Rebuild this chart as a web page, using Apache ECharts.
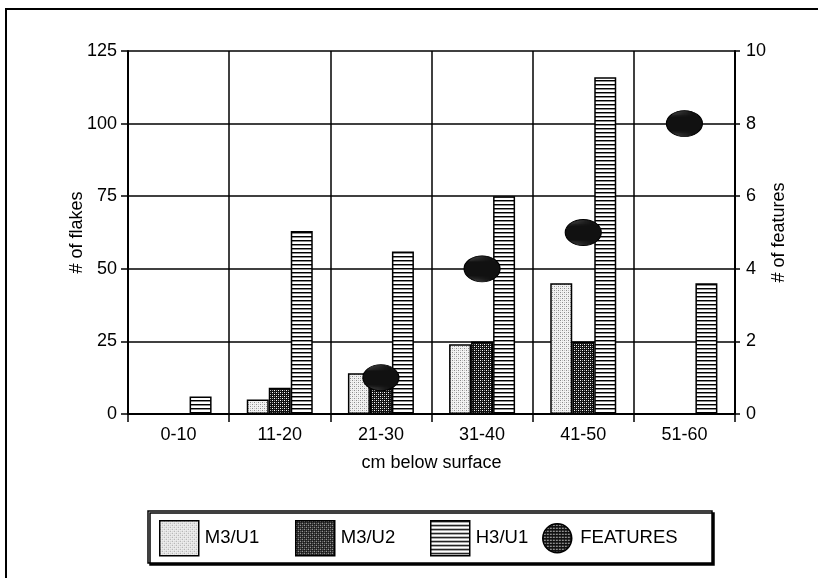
<!DOCTYPE html>
<html>
<head>
<meta charset="utf-8">
<script src="https://cdn.jsdelivr.net/npm/echarts@6/dist/echarts.min.js"></script>
<style>
  html, body { margin: 0; padding: 0; background: #fff; }
  #chart { width: 818px; height: 578px; }
</style>
</head>
<body>
<div id="chart"></div>
<script>
// Depth intervals (cm below surface)
const depthBins = ['0-10', '11-20', '21-30', '31-40', '41-50', '51-60'];
// Flake counts per unit
const m3u1 = [0, 5, 14, 24, 45, 0];
const m3u2 = [0, 9, 9, 25, 25, 0];
const h3u1 = [6, 63, 56, 75, 116, 45];
// Number of features per interval ('-' = none plotted)
const featureCounts = ['-', '-', 1, 4, 5, 8];
// Axis ranges
const flakeAxis = [0, 125, 25];
const featureAxis = [0, 10, 2];

const FONT = '"Liberation Sans", Arial, sans-serif';

function tile(w, h, draw) {
  const c = document.createElement('canvas');
  c.width = w; c.height = h;
  const g = c.getContext('2d');
  draw(g);
  return { image: c, repeat: 'repeat' };
}

// Light stipple
const stipple = tile(4, 4, g => {
  g.fillStyle = '#f2f2f2'; g.fillRect(0, 0, 4, 4);
  g.fillStyle = '#8a8a8a';
  g.fillRect(0, 0, 1, 1); g.fillRect(2, 2, 1, 1);
  g.fillStyle = '#c4c4c4';
  g.fillRect(2, 0, 1, 1); g.fillRect(0, 2, 1, 1);
});
// Dark dotted hatch
const hatch = tile(4, 4, g => {
  g.fillStyle = '#111'; g.fillRect(0, 0, 4, 4);
  g.fillStyle = '#fff';
  g.fillRect(0, 0, 1, 1); g.fillRect(2, 2, 1, 1);
  g.fillStyle = '#9a9a9a';
  g.fillRect(2, 0, 1, 1); g.fillRect(0, 2, 1, 1);
});
// Horizontal stripes
const stripes = tile(4, 4, g => {
  g.fillStyle = '#fff'; g.fillRect(0, 0, 4, 4);
  g.fillStyle = '#000'; g.fillRect(0, 0, 4, 1);
  g.fillStyle = '#8c8c8c'; g.fillRect(0, 1, 4, 1);
});
// Feature marker fill
const featureFill = tile(3, 3, g => {
  g.fillStyle = '#111'; g.fillRect(0, 0, 3, 3);
  g.fillStyle = '#f4f4f4'; g.fillRect(1, 1, 1, 1);
  g.fillStyle = '#777'; g.fillRect(2, 1, 1, 1);
});

const barStyle = fill => ({ color: fill, borderColor: '#000', borderWidth: 1.5 });
const txt = { color: '#000', fontFamily: FONT, fontSize: 18 };

function legendItem(name, icon, left, top, w, h) {
  return {
    data: [{ name: name, icon: icon }], left: left, top: top, itemWidth: w, itemHeight: h,
    itemGap: 0, padding: 0, selectedMode: false, symbolKeepAspect: false,
    textStyle: Object.assign({}, txt, { fontSize: 18.5, padding: [0, 0, 0, 1] }),
    itemStyle: { borderColor: '#000', borderWidth: 1.5 }
  };
}

const chart = echarts.init(document.getElementById('chart'), null, { renderer: 'canvas' });
chart.setOption({
  animation: false,
  backgroundColor: '#fff',
  grid: { left: 128, right: 83, top: 51, bottom: 164 },
  graphic: [
    { type: 'rect', shape: { x: 6, y: 9, width: 900, height: 700 },
      style: { fill: 'none', stroke: '#000', lineWidth: 2 }, z: -10 },
    { type: 'rect', shape: { x: 148, y: 511, width: 564, height: 52 },
      style: { fill: '#fff', stroke: '#000', lineWidth: 1.5,
               shadowColor: '#000', shadowOffsetX: 2, shadowOffsetY: 2, shadowBlur: 0 }, z: -5 }
  ],
  legend: [
    legendItem('M3/U1', 'rect', 159, 520, 39, 35),
    legendItem('M3/U2', 'rect', 295, 520, 39, 35),
    legendItem('H3/U1', 'rect', 430, 520, 39, 35),
    legendItem('FEATURES', 'circle', 542, 523, 34, 29)
  ],
  xAxis: {
    type: 'category',
    data: depthBins,
    boundaryGap: true,
    name: 'cm below surface',
    nameLocation: 'middle',
    nameGap: 40,
    nameMoveOverlap: false,
    nameTextStyle: txt,
    axisLine: { lineStyle: { color: '#000', width: 2 } },
    axisTick: { show: true, length: 8, lineStyle: { color: '#000', width: 1.5 } },
    axisLabel: Object.assign({ margin: 12 }, txt),
    splitLine: { show: true, lineStyle: { color: '#000', width: 1.5 } }
  },
  yAxis: [
    {
      type: 'value', min: flakeAxis[0], max: flakeAxis[1], interval: flakeAxis[2],
      name: '# of flakes', nameLocation: 'middle', nameGap: 42, nameRotate: 90,
      nameMoveOverlap: false,
      nameTextStyle: txt,
      axisLine: { show: true, lineStyle: { color: '#000', width: 2 } },
      axisTick: { show: true, length: 7, lineStyle: { color: '#000', width: 1.5 } },
      axisLabel: Object.assign({ margin: 11 }, txt),
      splitLine: { show: true, lineStyle: { color: '#000', width: 1.5 } }
    },
    {
      type: 'value', min: featureAxis[0], max: featureAxis[1], interval: featureAxis[2],
      name: '# of features', nameLocation: 'middle', nameGap: 35, nameRotate: 90,
      nameMoveOverlap: false,
      nameTextStyle: txt,
      axisLine: { show: true, lineStyle: { color: '#000', width: 2 } },
      axisTick: { show: true, length: 5, lineStyle: { color: '#000', width: 1.5 } },
      axisLabel: Object.assign({ margin: 11 }, txt),
      splitLine: { show: false }
    }
  ],
  series: [
    { name: 'M3/U1', type: 'bar', data: m3u1, barWidth: 22, barGap: '0%',
      itemStyle: barStyle(stipple), z: 2 },
    { name: 'M3/U2', type: 'bar', data: m3u2, barWidth: 22, barGap: '0%',
      itemStyle: barStyle(hatch), z: 2 },
    { name: 'H3/U1', type: 'bar', data: h3u1, barWidth: 22, barGap: '0%',
      itemStyle: barStyle(stripes), z: 2 },
    { name: 'FEATURES', type: 'scatter', yAxisIndex: 1, data: featureCounts,
      symbol: 'circle', symbolSize: [36, 26],
      itemStyle: { color: featureFill, borderColor: '#000', borderWidth: 1, opacity: 1 }, z: 5 }
  ]
});
</script>
</body>
</html>
